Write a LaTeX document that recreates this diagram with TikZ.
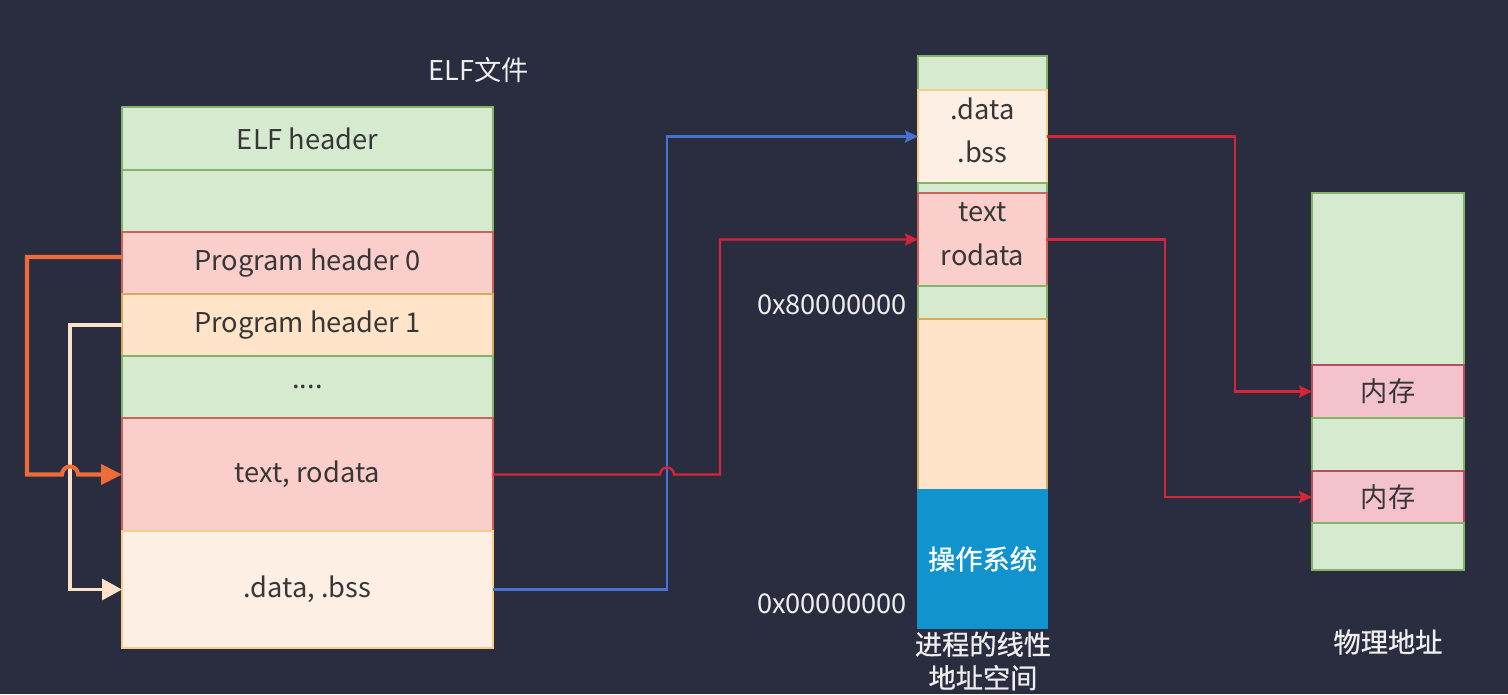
\documentclass[tikz,border=0pt]{standalone}
\usepackage{fontspec}
\setmainfont{Noto Sans CJK SC}
\newfontfamily\labfont{Noto Sans CJK SC}[FakeBold=0.8]
\usetikzlibrary{positioning,arrows.meta}

\definecolor{bgC}{RGB}{42,45,63}
\definecolor{txtC}{RGB}{55,55,55}
\definecolor{labC}{RGB}{238,238,238}
\definecolor{grnF}{RGB}{214,234,208}
\definecolor{grnD}{RGB}{130,179,102}
\definecolor{pnkF}{RGB}{250,206,202}
\definecolor{pnkD}{RGB}{200,100,90}
\definecolor{pchF}{RGB}{255,228,202}
\definecolor{pchD}{RGB}{215,170,90}
\definecolor{crmF}{RGB}{253,239,228}
\definecolor{crmD}{RGB}{245,205,135}
\definecolor{memF}{RGB}{244,194,204}
\definecolor{memD}{RGB}{180,80,90}
\definecolor{osF}{RGB}{17,148,206}
\definecolor{redC}{RGB}{212,38,56}
\definecolor{bluC}{RGB}{70,115,210}
\definecolor{orgC}{RGB}{238,108,58}
\definecolor{crmC}{RGB}{250,226,202}

\begin{document}
\begin{tikzpicture}[
        font=\fontsize{15.5}{19}\selectfont,
        elfnode/.style={rectangle, minimum width=7.42cm, inner sep=0pt, outer sep=0pt, line width=0.8pt, text=txtC},
        vnode/.style={rectangle, minimum width=2.58cm, inner sep=0pt, outer sep=0pt, line width=0.8pt, text=txtC, align=center, font=\fontsize{15.5}{24.5}\selectfont},
        pnode/.style={rectangle, minimum width=3.04cm, inner sep=0pt, outer sep=0pt, line width=0.8pt, text=txtC},
        greenfill/.style={draw=grnD, fill=grnF},
        pinkfill/.style={draw=pnkD, fill=pnkF},
        peachfill/.style={draw=pchD, fill=pchF},
        creamfill/.style={draw=crmD, fill=crmF},
        memfill/.style={draw=memD, fill=memF},
        osfill/.style={draw=osF, fill=osF, text=white},
        labelnode/.style={rectangle, inner sep=0pt, text=labC},
        redline/.style={draw=redC, line width=1.3pt, -{Stealth[length=0.26cm, width=0.24cm, inset=0.04cm]}},
        blueline/.style={draw=bluC, line width=1.3pt, -{Stealth[length=0.26cm, width=0.24cm, inset=0.04cm]}},
        orangeline/.style={draw=orgC, line width=2.3pt, -{Triangle[length=0.42cm, width=0.40cm]}},
        creamline/.style={draw=crmC, line width=1.8pt, -{Triangle[length=0.40cm, width=0.42cm]}},
        ]
        \fill[bgC] (0,0) rectangle (30.16,-13.88);
        \useasboundingbox (0,0) rectangle (30.16,-13.88);

        %Nodes
        \node[elfnode, greenfill, minimum height=1.26cm] (elfheader) at (6.15,-2.77) {ELF header};
        \node[elfnode, greenfill, minimum height=1.24cm] (e1) [below=0pt of elfheader] {};
        \node[elfnode, pinkfill, minimum height=1.24cm] (ph0) [below=0pt of e1] {Program header 0};
        \node[elfnode, peachfill, minimum height=1.24cm] (ph1) [below=0pt of ph0] {Program header 1};
        \node[elfnode, greenfill, minimum height=1.24cm] (dots) [below=0pt of ph1] {....};
        \node[elfnode, pinkfill, minimum height=2.26cm] (textro) [below=0pt of dots] {text, rodata};
        \node[elfnode, creamfill, minimum height=2.34cm] (databss) [below=0pt of textro] {.data, .bss};

        \node[vnode, greenfill, minimum height=0.68cm] (v0) at (19.65,-1.46) {};
        \node[vnode, creamfill, minimum height=1.86cm, line width=1.6pt, text depth=0.26cm] (vdata) [below=0pt of v0] {.data\\.bss};
        \node[vnode, greenfill, minimum height=0.2cm] (v2) [below=0pt of vdata] {};
        \node[vnode, pinkfill, minimum height=1.86cm, text depth=0.22cm] (vtext) [below=0pt of v2] {text\\rodata};
        \node[vnode, greenfill, minimum height=0.66cm] (v4) [below=0pt of vtext] {};
        \node[vnode, peachfill, minimum height=3.42cm] (v5) [below=0pt of v4] {};
        \node[vnode, osfill, minimum height=2.76cm] (os) [below=0pt of v5] {\labfont 操作系统};

        \node[pnode, greenfill, minimum height=3.44cm] (p0) at (27.76,-5.58) {};
        \node[pnode, memfill, minimum height=1.06cm] (mem1) [below=0pt of p0] {内存};
        \node[pnode, greenfill, minimum height=1.06cm] (p2) [below=0pt of mem1] {};
        \node[pnode, memfill, minimum height=1.04cm] (mem2) [below=0pt of p2] {内存};
        \node[pnode, greenfill, minimum height=0.94cm] (p4) [below=0pt of mem2] {};

        \node[labelnode] (elftitle) at (9.58,-1.40) {ELF文件};
        \node[labelnode, anchor=east] (hiaddr) at (18.14,-6.10) {0x80000000};
        \node[labelnode, anchor=east] (loaddr) at (18.14,-12.08) {0x00000000};
        \node[labelnode, align=center, font=\fontsize{15.5}{19}\labfont] (vlabel) at (19.66,-13.22) {进程的线性\\地址空间};
        \node[labelnode, font=\fontsize{15.5}{19}\labfont] (plabel) at (27.76,-12.84) {物理地址};

        %Bends
        \coordinate (oL) at (0.54,0);
        \coordinate (cL) at (1.40,0);
        \coordinate (hL) at (1.24,0);
        \coordinate (bX) at (13.34,0);
        \coordinate (hR) at (13.20,0);
        \coordinate (rX) at (14.40,0);
        \coordinate (p1X) at (24.70,0);
        \coordinate (p2X) at (23.30,0);

        %Connectors
        \draw[creamline] (ph1.west) -| (cL |- databss.west) -- (databss.west);
        \draw[orangeline] ([yshift=0.12cm]ph0.west) -| (oL |- textro.west) -- (hL |- textro.west)
            arc[start angle=180, end angle=0, radius=0.16cm] -- (textro.west);
        \draw[blueline] (databss.east) -| (bX |- vdata.west) -- (vdata.west);
        \draw[redline] (textro.east) -- (hR |- textro.east)
            arc[start angle=180, end angle=0, radius=0.14cm] -- (rX |- textro.east) |- (vtext.west);
        \draw[redline] (vdata.east) -| (p1X |- mem1.west) -- (mem1.west);
        \draw[redline] (vtext.east) -| (p2X |- mem2.west) -- (mem2.west);
    \end{tikzpicture}
\end{document}
